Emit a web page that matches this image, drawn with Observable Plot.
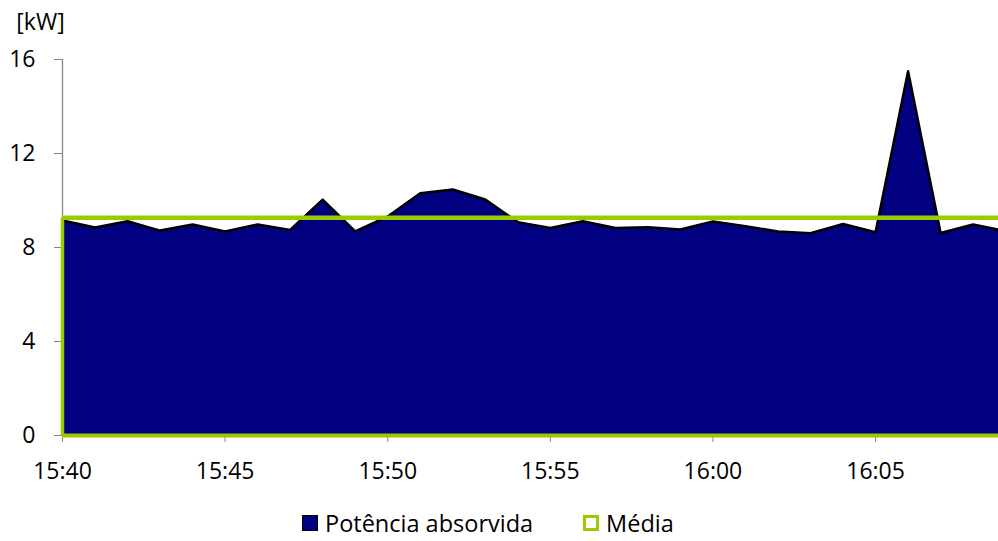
<!DOCTYPE html>
<html>
<head>
<meta charset="utf-8">
<script src="https://cdn.jsdelivr.net/npm/d3@7"></script>
<script src="https://cdn.jsdelivr.net/npm/@observablehq/plot@0.6"></script>
<style>
  html, body { margin: 0; padding: 0; background: #fff; overflow: hidden; }
  #wrap { position: relative; width: 998px; height: 541px; font-family: "Open Sans", sans-serif; }
  #legend { position: absolute; left: 302px; top: 507px; display: flex; align-items: center; font-size: 23.5px; color: #000; }
  .sw { width: 16px; height: 16px; margin-right: 7px; box-sizing: border-box; }
  .item { display: flex; align-items: center; }
</style>
</head>
<body>
<div id="wrap">
  <div id="chart"></div>
  <div id="legend">
    <div class="item"><div class="sw" style="background:#000080;border:1.5px solid #000;"></div><span>Potência absorvida</span></div>
    <div class="item" style="margin-left:50px"><div class="sw" style="background:#fff;border:3.5px solid #99cc00;"></div><span>Média</span></div>
  </div>
</div>
<script>
const times = ["15:40","15:41","15:42","15:43","15:44","15:45","15:46","15:47","15:48","15:49",
               "15:50","15:51","15:52","15:53","15:54","15:55","15:56","15:57","15:58","15:59",
               "16:00","16:01","16:02","16:03","16:04","16:05","16:06","16:07","16:08","16:09"];
const potencia = [9.15, 8.85, 9.12, 8.72, 8.98, 8.68, 8.98, 8.75, 10.04, 8.69,
                  9.32, 10.31, 10.47, 10.04, 9.08, 8.83, 9.12, 8.83, 8.86, 8.77,
                  9.11, 8.91, 8.68, 8.61, 9.00, 8.65, 15.5, 8.62, 8.98, 8.70];
const media = 9.27;
const yTicks = [0, 4, 8, 12, 16];

const parse = d3.utcParse("%H:%M");
const data = times.map((t, i) => ({time: parse(t), value: potencia[i]}));
const t0 = data[0].time;
const tEnd = new Date(+t0 + 28.78 * 60000);

const chart = Plot.plot({
  width: 998,
  height: 490,
  marginLeft: 62,
  marginRight: 0,
  marginTop: 59,
  marginBottom: 55,
  style: {fontFamily: "Open Sans", fontSize: "23px", color: "#000", background: "#fff"},
  x: {type: "utc", domain: [t0, tEnd]},
  y: {domain: [0, 16]},
  marks: [
    Plot.areaY(data, {x: "time", y: "value", fill: "#000080", clip: true}),
    Plot.lineY(data, {x: "time", y: "value", stroke: "#000", strokeWidth: 2.5, clip: true}),
    Plot.ruleX([t0], {y1: media, y2: 16, stroke: "#868686", strokeWidth: 1.3}),
    Plot.axisY({ticks: yTicks, tickSize: 8, tickPadding: 19, stroke: "#868686", label: null, tickFormat: d => d}),
    Plot.axisX({ticks: d3.utcMinute.every(5), tickSize: 7, tickPadding: 20, stroke: "#868686", label: null, tickFormat: d3.utcFormat("%H:%M")}),
    Plot.ruleY([media], {stroke: "#99cc00", strokeWidth: 4.5}),
    Plot.ruleY([0], {stroke: "#99cc00", strokeWidth: 4}),
    Plot.ruleX([t0], {y1: 0, y2: media, stroke: "#99cc00", strokeWidth: 3.5}),
    Plot.text(["[kW]"], {frameAnchor: "top-left", dx: -22, dy: -37, lineAnchor: "middle", text: d => d, textAnchor: "middle", fill: "#000"})
  ]
});
document.getElementById("chart").appendChild(chart);
</script>
</body>
</html>
